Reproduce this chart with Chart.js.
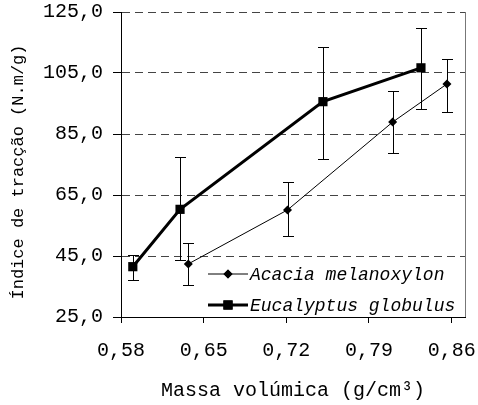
<!DOCTYPE html>
<html>
<head>
<meta charset="utf-8">
<script src="https://cdn.jsdelivr.net/npm/chart.js@4.4.1/dist/chart.umd.min.js"></script>
<style>
  html, body { margin: 0; padding: 0; background: #fff; }
  #wrap { width: 478px; height: 405px; }
</style>
</head>
<body>
<div id="wrap"><canvas id="c" width="478" height="405"></canvas></div>
<script>
// Density (g/cm3) and tensile index (N.m/g) with +/- spread per sample
const acaciaX    = [0.637, 0.721, 0.810, 0.856];
const acaciaY    = [42.4, 60.1, 88.9, 101.4];
const acaciaLow  = [35.4, 51.5, 78.9, 92.2];
const acaciaHigh = [49.4, 69.4, 99.0, 109.7];

const eucX    = [0.590, 0.630, 0.751, 0.834];
const eucY    = [41.5, 60.3, 95.6, 106.7];
const eucLow  = [37.1, 43.7, 76.8, 93.3];
const eucHigh = [45.4, 77.4, 113.6, 119.8];

const xTicks = [0.58, 0.65, 0.72, 0.79, 0.86];
const yTicks = [25, 45, 65, 85, 105, 125];

const seriesNames = ['Acacia melanoxylon', 'Eucalyptus globulus'];
const xTitle = 'Massa volúmica (g/cm³)';
const yTitle = 'Índice de tracção (N.m/g)';

const MONO = '"Liberation Mono", "DejaVu Sans Mono", monospace';

const toPts = (xs, ys) => xs.map((x, i) => ({ x: x, y: ys[i] }));
const comma = (v, d) => v.toFixed(d).replace('.', ',');

// vertical error bars with caps, drawn under the lines and markers
const errorBars = {
  id: 'errorBars',
  beforeDatasetsDraw(chart) {
    const { ctx, scales: { x, y } } = chart;
    const sets = [[acaciaX, acaciaLow, acaciaHigh], [eucX, eucLow, eucHigh]];
    ctx.save();
    ctx.strokeStyle = '#000';
    ctx.lineWidth = 1;
    sets.forEach(([xs, lo, hi]) => {
      xs.forEach((xv, i) => {
        const px = Math.round(x.getPixelForValue(xv)) + 0.5;
        const pLo = Math.round(y.getPixelForValue(lo[i])) + 0.5;
        const pHi = Math.round(y.getPixelForValue(hi[i])) + 0.5;
        ctx.beginPath();
        ctx.moveTo(px, pLo); ctx.lineTo(px, pHi);
        ctx.moveTo(px - 5.5, pLo); ctx.lineTo(px + 5.5, pLo);
        ctx.moveTo(px - 5.5, pHi); ctx.lineTo(px + 5.5, pHi);
        ctx.stroke();
      });
    });
    ctx.restore();
  }
};

// right frame edge, axis titles and the in-plot legend
const decorations = {
  id: 'decorations',
  afterDraw(chart) {
    const { ctx, chartArea: a } = chart;
    ctx.save();
    ctx.strokeStyle = '#777';
    ctx.lineWidth = 1;
    ctx.beginPath();
    ctx.moveTo(Math.round(a.right) + 0.5, a.top);
    ctx.lineTo(Math.round(a.right) + 0.5, a.bottom);
    ctx.stroke();

    ctx.fillStyle = '#000';
    ctx.textBaseline = 'middle';
    ctx.textAlign = 'center';
    ctx.font = '20px ' + MONO;
    ctx.fillText(xTitle, (a.left + a.right) / 2, 391);

    ctx.save();
    ctx.translate(18, 172);
    ctx.rotate(-Math.PI / 2);
    ctx.font = '17px ' + MONO;
    ctx.fillText(yTitle, 0, 0);
    ctx.restore();

    // legend rows: line segment with the series marker in its middle
    const rows = [
      { y: 274, w: 1, style: 'rectRot', r: 4.5 },
      { y: 305, w: 3, style: 'rect', r: 6.5 }
    ];
    ctx.font = 'italic 18px ' + MONO;
    ctx.textAlign = 'left';
    rows.forEach((row, i) => {
      ctx.strokeStyle = '#000';
      ctx.lineWidth = row.w;
      ctx.beginPath();
      ctx.moveTo(208, row.y);
      ctx.lineTo(248, row.y);
      ctx.stroke();
      Chart.helpers.drawPoint(ctx, { pointStyle: row.style, radius: row.r, borderWidth: 0, rotation: 0 }, 228, row.y);
      ctx.fillStyle = '#000';
      ctx.fill();
      ctx.fillText(seriesNames[i], 250, row.y + 1);
    });
    ctx.restore();
  }
};

const noPad = (s) => { s.paddingTop = 0; s.paddingBottom = 0; s.paddingLeft = 0; s.paddingRight = 0; };

new Chart(document.getElementById('c'), {
  type: 'line',
  data: {
    datasets: [
      {
        label: seriesNames[0],
        data: toPts(acaciaX, acaciaY),
        borderColor: '#000',
        backgroundColor: '#000',
        borderWidth: 1,
        pointStyle: 'rectRot',
        pointRadius: 4.5,
        pointBorderWidth: 0,
        pointBackgroundColor: '#000'
      },
      {
        label: seriesNames[1],
        data: toPts(eucX, eucY),
        borderColor: '#000',
        backgroundColor: '#000',
        borderWidth: 3,
        pointStyle: 'rect',
        pointRadius: 6.5,
        pointBorderWidth: 0,
        pointBackgroundColor: '#000'
      }
    ]
  },
  options: {
    responsive: false,
    animation: false,
    devicePixelRatio: 1,
    layout: { padding: { top: 12, right: 13, left: 0, bottom: 0 } },
    plugins: { legend: { display: false }, tooltip: { enabled: false } },
    scales: {
      x: {
        type: 'linear',
        min: 0.58,
        max: 0.8713,
        afterBuildTicks: (s) => { s.ticks = xTicks.map(v => ({ value: v })); },
        afterFit: (s) => { s.height = 88; noPad(s); },
        ticks: {
          callback: (v) => comma(v, 2),
          font: { family: MONO, size: 20 },
          color: '#000',
          padding: 16,
          maxRotation: 0,
          autoSkip: false
        },
        grid: {
          drawOnChartArea: false,
          drawTicks: true,
          tickLength: 6,
          tickColor: '#000',
          tickWidth: 1
        },
        border: { display: true, color: '#000', width: 1 }
      },
      y: {
        type: 'linear',
        min: 25,
        max: 125,
        afterBuildTicks: (s) => { s.ticks = yTicks.map(v => ({ value: v })); },
        afterFit: (s) => { s.width = 121; noPad(s); },
        ticks: {
          callback: (v) => comma(v, 1),
          font: { family: MONO, size: 20 },
          color: '#000',
          padding: 10
        },
        grid: {
          color: (c) => (c.tick && c.tick.value === 25) ? 'rgba(0,0,0,0)' : '#444',
          lineWidth: 1,
          tickLength: 8,
          tickColor: '#000',
          tickWidth: 1,
          tickBorderDash: []
        },
        border: { display: true, color: '#000', width: 1, dash: [8, 5] }
      }
    }
  },
  plugins: [errorBars, decorations]
});
</script>
</body>
</html>
